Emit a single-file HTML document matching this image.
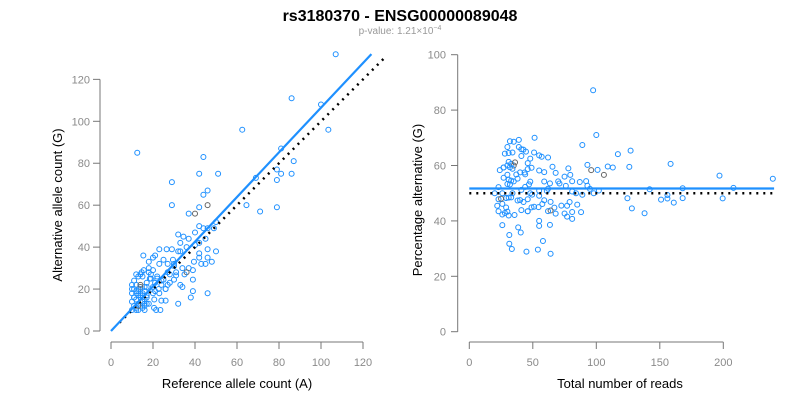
<!DOCTYPE html>
<html><head><meta charset="utf-8"><style>
body{margin:0;background:#fff;font-family:"Liberation Sans",Arial,sans-serif}
svg text{font-family:"Liberation Sans",Arial,sans-serif}
</style></head><body>
<svg id="chart" width="800" height="400" viewBox="0 0 800 400" xmlns="http://www.w3.org/2000/svg">
<text x="400" y="21" text-anchor="middle" font-size="16" font-weight="bold" fill="#000">rs3180370 - ENSG00000089048</text>
<text x="400" y="34" text-anchor="middle" font-size="10" fill="#999">p-value: 1.21×10<tspan dy="-4" font-size="7">−4</tspan></text>
<g id="left"></g>
<g id="right"></g>
<text x="237" y="388" text-anchor="middle" font-size="13">Reference allele count (A)</text>
<text transform="translate(62,205) rotate(-90)" text-anchor="middle" font-size="13">Alternative allele count (G)</text>
<text x="620" y="388" text-anchor="middle" font-size="13">Total number of reads</text>
<text transform="translate(422,200) rotate(-90)" text-anchor="middle" font-size="13">Percentage alternative (G)</text>
</svg>
<script>
const refCounts=[107,86,100,103.5,62.5,12.5,44,87,42,51,86,81,79,81,79,69,29,46,44,29,46,64.5,79,71,42,37,40,50,46,42,44,49,32,34.5,40,37,45,42,33,40,46,50,36,42,46,42,45,48,43,39.5,39,39,39,46,32,24,26,21.5,23.5,20.5,15.4,21,23,26.5,29,32,33,29.5,25,20,14.6,15.6,18,20,23,27,30,34,37,31,27,22,18.5,17,14,25,30,33,34,26,23,20,17,20.6,22.7,28,31,36,10,10,10,11,11,11,12,12,12,12,13,13,13,14,14,14,15,15,15,16,16,16,17,17,10,11,12,13,14,15,16,12,13,14,19,21,24,27,16,18,13,15,11,12,14,15,17,18,19,20,22,24,26,28,30,35,38,10,13,16,18,21];
const altCounts=[132,111,108,96,96,85,83,81,75,75,75,75,77,87,72,73,71,67,65,60,60,60,59,57,59,56,56,52,49,50,49,49,46,45,47,44,44,42,42,41,39,38,40,37,35,35,32,33,32,33,29,24.5,19,18,13,14.5,14.5,10,10,11,36,36,39,39,39,38,38,34,34,35,28,29,30,29,32,32,32,30,30,28,28,25,25,23,21,24.5,24.5,22,21,20,18,18,16,15,20,23,26.5,28,10,14,18,12,16,20,11,15,19,22,10,13,17,12,16,20,11,14,18,10,15,19,13,17,20,16,18,20,17,14,12,10,26,27,25,23,24,22,21,13,12,17,24,27,22,26,21,28,27,21,26,22,20,27,31,27,16,22,19,13,33,19];
const greyIdx=[20,26,84,97,138,142];
const leftTicks=[0,20,40,60,80,100,120];
const rightXTicks=[0,50,100,150,200];
const rightYTicks=[0,20,40,60,80,100];
const fitSlope=1.065, rightFit=51.7, nullPct=50;
const NS="http://www.w3.org/2000/svg";
const lx=v=>111+v*2.1, ly=v=>331-v*2.097;
const rx=v=>469.3+v*1.27, ry=v=>331.7-v*2.77;
function mk(parent,tag,attrs){const e=document.createElementNS(NS,tag);for(const k in attrs)e.setAttribute(k,attrs[k]);parent.appendChild(e);return e;}
const L=document.getElementById('left'),R=document.getElementById('right');
const ax='#777',tc='#8a8a8a';
let e=mk(L,'line',{x1:100,x2:100,y1:ly(0),y2:ly(120),stroke:ax});


e=mk(L,'line',{x1:lx(0),x2:lx(120),y1:342,y2:342,stroke:ax});


leftTicks.forEach(t=>{
 mk(L,'line',{x1:93,x2:100,y1:ly(t),y2:ly(t),stroke:ax});
 let a=mk(L,'text',{x:90,y:ly(t)+4,'text-anchor':'end','font-size':11,fill:tc});a.textContent=t;
 
 
 mk(L,'line',{x1:lx(t),x2:lx(t),y1:342,y2:349,stroke:ax});
 let b=mk(L,'text',{x:lx(t),y:366,'text-anchor':'middle','font-size':11,fill:tc});b.textContent=t;
 
 
});
e=mk(R,'line',{x1:457.7,x2:457.7,y1:ry(0),y2:ry(100),stroke:ax});


e=mk(R,'line',{x1:rx(0),x2:rx(200),y1:342,y2:342,stroke:ax});


rightYTicks.forEach(t=>{
 mk(R,'line',{x1:451,x2:457.7,y1:ry(t),y2:ry(t),stroke:ax});
 let a=mk(R,'text',{x:446,y:ry(t)+4,'text-anchor':'end','font-size':11,fill:tc});a.textContent=t;
 
 
});
rightXTicks.forEach(t=>{
 mk(R,'line',{x1:rx(t),x2:rx(t),y1:342,y2:349,stroke:ax});
 let b=mk(R,'text',{x:rx(t),y:366,'text-anchor':'middle','font-size':11,fill:tc});b.textContent=t;
 
 
});
const n=Math.min(refCounts.length,altCounts.length);
for(let i=0;i<n;i++){
 const a=refCounts[i],g=altCounts[i],col=greyIdx.includes(i)?'#666':'#1E90FF';
 let c=mk(L,'circle',{cx:lx(a),cy:ly(g),r:2.5,fill:'none',stroke:col,'stroke-width':1});
 
 
 const tot=a+g,pct=g/tot*100;
 let d=mk(R,'circle',{cx:rx(tot),cy:ry(pct),r:2.5,fill:'none',stroke:col,'stroke-width':1});
 
 
}
e=mk(L,'line',{x1:lx(4),y1:ly(4),x2:lx(131),y2:ly(131),stroke:'#000','stroke-width':2.5,'stroke-dasharray':'2 5'});


e=mk(L,'line',{x1:lx(0),y1:ly(0),x2:lx(124),y2:ly(124*fitSlope),stroke:'#1E90FF','stroke-width':2.2});


e=mk(R,'line',{x1:rx(0),y1:ry(nullPct),x2:rx(240),y2:ry(nullPct),stroke:'#000','stroke-width':2.5,'stroke-dasharray':'2 5'});


e=mk(R,'line',{x1:rx(0),y1:ry(rightFit),x2:rx(240),y2:ry(rightFit),stroke:'#1E90FF','stroke-width':2.2});


</script>
</body></html>
